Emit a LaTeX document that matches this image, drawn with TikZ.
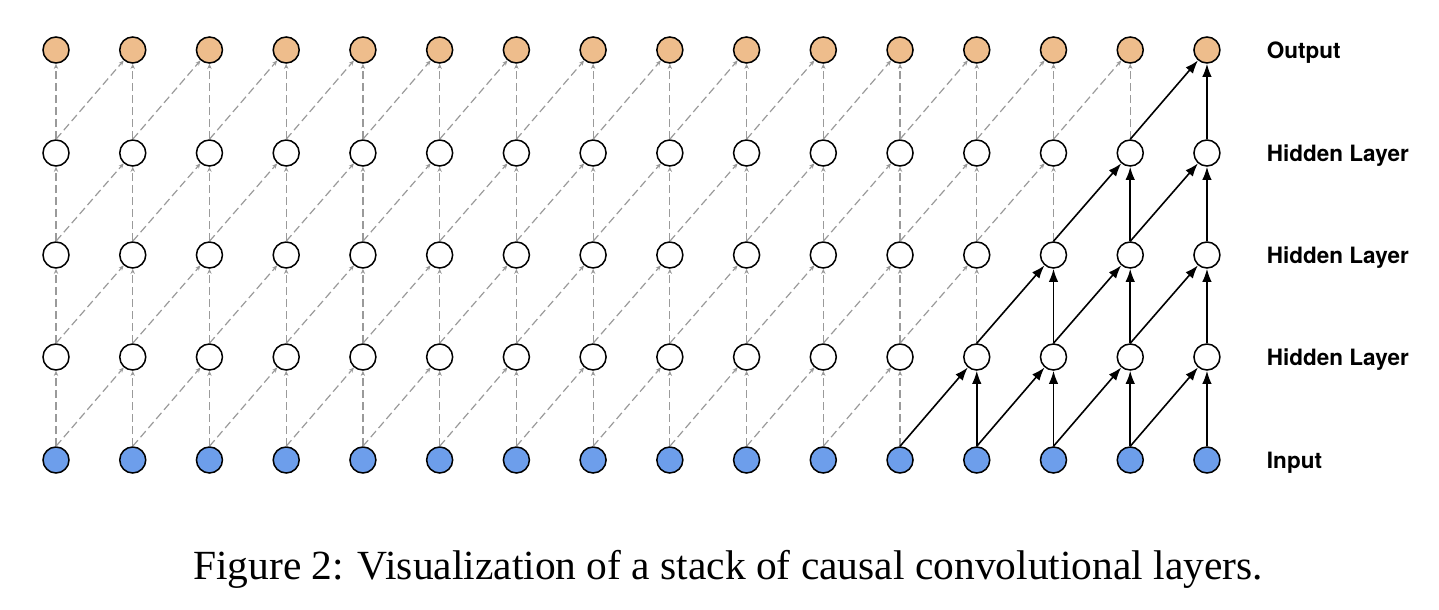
\documentclass[tikz,border=0pt]{standalone}
\usepackage{fontspec}
\setmainfont{Liberation Serif}
\newfontfamily\labelfont{TeX Gyre Heros}
\usetikzlibrary{arrows.meta}
\definecolor{outfill}{HTML}{EEBD8C}
\definecolor{infill}{HTML}{6D9EEB}
\definecolor{dashgray}{HTML}{9A9A9A}
\tikzset{
  unit/.style={circle,draw=black,line width=.38mm,minimum size=6.5mm,inner sep=0pt},
  faint/.style={-{Stealth[length=1.3mm,width=1.1mm]},draw=dashgray,line width=.3mm,dash pattern=on 2mm off 1mm},
  live/.style={-{Latex[length=3.3mm,width=2.4mm]},draw=black,line width=.4mm},
  layername/.style={anchor=west,font=\labelfont\bfseries\fontsize{16}{18}\selectfont},
}
\begin{document}
\begin{tikzpicture}[x=0.25mm,y=-0.25mm]
  \useasboundingbox (0,0) rectangle (1439,610);
  % units, layer 0 = input, layer 4 = output
  \foreach \l/\y/\c in {0/460/infill,1/357/white,2/255/white,3/153/white,4/50/outfill} {
    \foreach \i in {0,...,15} {
      \node[unit,fill=\c] (n-\l-\i) at ({56+76.73*\i},\y) {};
    }
  }
  % connections: each unit sees itself and its left neighbour one layer down
  \foreach \l in {1,...,4} {
    \pgfmathtruncatemacro\p{\l-1}
    \foreach \i in {0,...,15} {
      \pgfmathtruncatemacro\j{\i-1}
      \ifnum\i<\numexpr11+\l\relax
        \draw[faint] (n-\p-\i.north) -- (n-\l-\i);
        \ifnum\i>0 \draw[faint] (n-\p-\j.north) -- (n-\l-\i); \fi
      \else
        \draw[live] (n-\p-\i.north) -- (n-\l-\i);
        \draw[live] (n-\p-\j.north) -- (n-\l-\i);
      \fi
    }
  }
  \node[layername] (lab-4) at (1262,53) {Output};
  \node[layername] (lab-3) at (1262,156) {Hidden Layer};
  \node[layername] (lab-2) at (1262,258) {Hidden Layer};
  \node[layername] (lab-1) at (1262,360) {Hidden Layer};
  \node[layername] (lab-0) at (1262,463) {Input};
  \node[font=\fontsize{29.5}{34}\selectfont] (caption) at (728,569) {Figure 2: Visualization of a stack of causal convolutional layers.};
\end{tikzpicture}
\end{document}
